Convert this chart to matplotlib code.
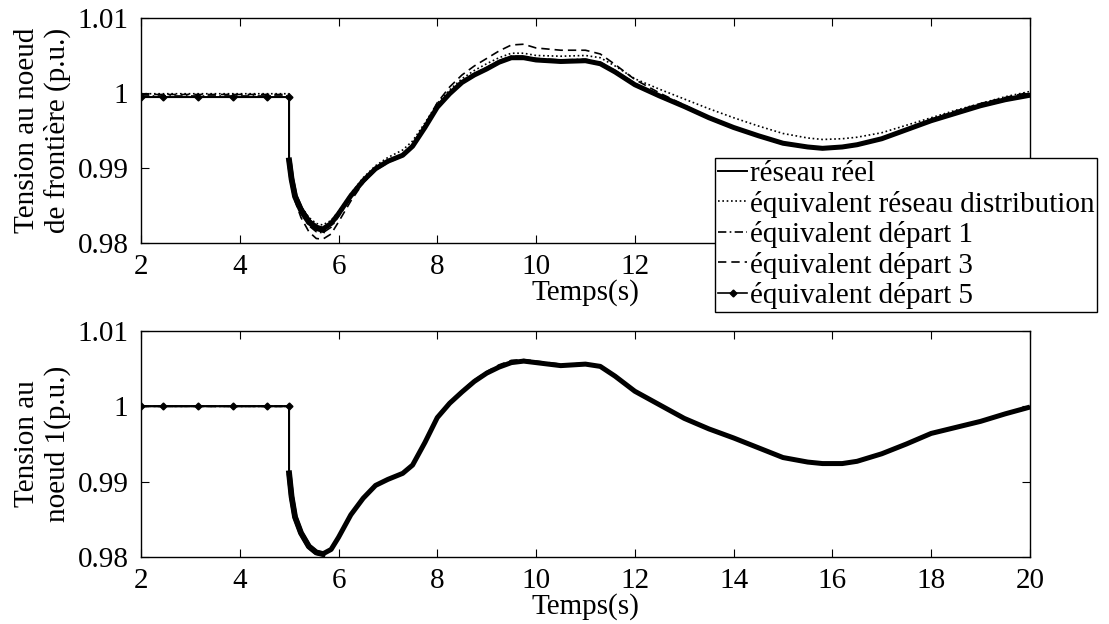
import matplotlib
matplotlib.use("Agg")
import matplotlib.pyplot as plt

plt.rcParams['font.family'] = ['Liberation Serif', 'DejaVu Serif']
plt.rcParams['font.size'] = 21

# ---------------- data ----------------
T = [2.0, 2.44, 3.15, 3.86, 4.55, 5.0, 5.0, 5.05, 5.12, 5.24, 5.4, 5.55, 5.68, 5.85, 6.0,
     6.25, 6.5, 6.75, 7.0, 7.3, 7.5, 7.75, 8.0, 8.25, 8.5, 8.75, 9.0, 9.25, 9.5, 9.75,
     10.0, 10.5, 11.0, 11.3, 11.6, 12.0, 12.5, 13.0, 13.5, 14.0, 14.5, 15.0, 15.5, 15.8,
     16.2, 16.5, 17.0, 17.5, 18.0, 18.5, 19.0, 19.5, 20.0]

# top panel: boundary node voltage
top_reel = [0.99945, 0.99945, 0.99945, 0.99945, 0.99945, 0.99945, 0.9910, 0.9885, 0.9862, 0.9844,
            0.9828, 0.9820, 0.98175, 0.9825, 0.9838, 0.9862, 0.9882, 0.9898, 0.9908, 0.9916,
            0.9928, 0.9953, 0.9980, 0.9998, 1.0013, 1.0023, 1.0031, 1.0040, 1.0046, 1.0046,
            1.0043, 1.0041, 1.0042, 1.0038, 1.0027, 1.0010, 0.9995, 0.9981, 0.9966, 0.9953,
            0.9942, 0.9932, 0.9927, 0.99255, 0.9927, 0.9930, 0.9938, 0.9950, 0.9962, 0.9972,
            0.9982, 0.9990, 0.9996]
top_distrib = [0.9999, 0.9999, 0.9999, 0.9999, 0.9999, 0.9999, 0.9912, 0.9888, 0.9866, 0.9849,
               0.9834, 0.9826, 0.9824, 0.9830, 0.9842, 0.9866, 0.9887, 0.9903, 0.9914, 0.9924,
               0.9936, 0.9960, 0.9986, 1.0004, 1.0019, 1.0030, 1.0039, 1.0047, 1.0053, 1.0053,
               1.0050, 1.0049, 1.0050, 1.0047, 1.0036, 1.0019, 1.0005, 0.9992, 0.9979, 0.9967,
               0.9956, 0.9946, 0.9940, 0.9938, 0.9939, 0.9941, 0.9947, 0.9957, 0.9967, 0.9977,
               0.9986, 0.9995, 1.0002]
top_dep1 = [0.9996, 0.9996, 0.9996, 0.9996, 0.9996, 0.9996, 0.9910, 0.9884, 0.9860, 0.9840,
            0.9823, 0.9815, 0.98135, 0.9821, 0.9835, 0.9860, 0.9881, 0.9897, 0.9907, 0.9916,
            0.9929, 0.9955, 0.9983, 1.0001, 1.0016, 1.0026, 1.0034, 1.0043, 1.0049, 1.0049,
            1.0046, 1.0044, 1.0045, 1.0041, 1.0030, 1.0013, 0.9997, 0.9982, 0.9967, 0.9954,
            0.9943, 0.9933, 0.9928, 0.99265, 0.9928, 0.9931, 0.9939, 0.9951, 0.9963, 0.9974,
            0.9984, 0.9992, 0.9999]
top_dep3 = [0.9998, 0.9998, 0.9998, 0.9998, 0.9998, 0.9998, 0.9910, 0.9882, 0.9856, 0.9834,
            0.9815, 0.9806, 0.9805, 0.9812, 0.9828, 0.9856, 0.9880, 0.9897, 0.9908, 0.9917,
            0.9931, 0.9958, 0.9987, 1.0008, 1.0024, 1.0036, 1.0046, 1.0056, 1.0064, 1.0065,
            1.0060, 1.0057, 1.0057, 1.0052, 1.0038, 1.0018, 1.0000, 0.9984, 0.9968, 0.9954,
            0.9943, 0.9933, 0.9928, 0.99265, 0.9928, 0.9931, 0.9940, 0.9952, 0.9965, 0.9976,
            0.9986, 0.9994, 1.0001]
top_dep5 = [0.99945, 0.99945, 0.99945, 0.99945, 0.99945, 0.99945, 0.9911, 0.9886, 0.9863, 0.9845,
            0.9829, 0.9821, 0.98185, 0.9826, 0.9839, 0.9863, 0.9883, 0.9899, 0.9909, 0.9917,
            0.9929, 0.9954, 0.9981, 0.9999, 1.0014, 1.0024, 1.0032, 1.0041, 1.0047, 1.0047,
            1.0044, 1.0042, 1.0043, 1.0039, 1.0028, 1.0011, 0.9996, 0.9982, 0.9967, 0.9954,
            0.9943, 0.9933, 0.9928, 0.99262, 0.9928, 0.9931, 0.9939, 0.9951, 0.9963, 0.9973,
            0.9983, 0.9991, 0.9997]

# bottom panel: node 1 voltage
bot_reel = [1.0000, 1.0000, 1.0000, 1.0000, 1.0000, 1.0000, 0.9911, 0.9880, 0.9853, 0.9832,
            0.9814, 0.9806, 0.9804, 0.9810, 0.9826, 0.9856, 0.9878, 0.9895, 0.9903, 0.9911,
            0.9922, 0.9952, 0.9985, 1.0004, 1.0019, 1.0033, 1.0044, 1.0052, 1.0058, 1.0060,
            1.0058, 1.0054, 1.0056, 1.0053, 1.0040, 1.0020, 1.0002, 0.9984, 0.9970, 0.9958,
            0.9945, 0.9932, 0.9926, 0.9924, 0.9924, 0.9927, 0.9937, 0.9950, 0.9964, 0.9972,
            0.9980, 0.9990, 0.9999]
bot_distrib = [1.0000, 1.0000, 1.0000, 1.0000, 1.0000, 1.0000, 0.9911, 0.9881, 0.9854, 0.9833,
               0.9815, 0.9807, 0.9805, 0.9811, 0.9827, 0.9857, 0.9879, 0.9896, 0.9904, 0.9912,
               0.9923, 0.9953, 0.9986, 1.0005, 1.0020, 1.0034, 1.0045, 1.0053, 1.0059, 1.0061,
               1.0059, 1.0055, 1.0057, 1.0054, 1.0041, 1.0021, 1.0003, 0.9985, 0.9971, 0.9959,
               0.9946, 0.9933, 0.9927, 0.9925, 0.9925, 0.9928, 0.9938, 0.9951, 0.9965, 0.9973,
               0.9981, 0.9991, 1.0000]
bot_dep1 = [1.0000, 1.0000, 1.0000, 1.0000, 1.0000, 1.0000, 0.9911, 0.9880, 0.9853, 0.9832,
            0.9814, 0.9806, 0.9804, 0.9810, 0.9826, 0.9856, 0.9878, 0.9895, 0.9903, 0.9911,
            0.9922, 0.9952, 0.9985, 1.0004, 1.0019, 1.0033, 1.0044, 1.0052, 1.0058, 1.0060,
            1.0058, 1.0054, 1.0056, 1.0053, 1.0040, 1.0020, 1.0002, 0.9984, 0.9970, 0.9958,
            0.9945, 0.9932, 0.9926, 0.9924, 0.9924, 0.9927, 0.9937, 0.9950, 0.9964, 0.9972,
            0.9980, 0.9990, 0.9999]
bot_dep3 = [1.0000, 1.0000, 1.0000, 1.0000, 1.0000, 1.0000, 0.9911, 0.9880, 0.9853, 0.9831,
            0.9813, 0.9805, 0.9803, 0.9809, 0.9826, 0.9856, 0.9879, 0.9896, 0.9904, 0.9912,
            0.9923, 0.9954, 0.9987, 1.0006, 1.0021, 1.0035, 1.0046, 1.0055, 1.0061, 1.0062,
            1.0060, 1.0056, 1.0057, 1.0054, 1.0041, 1.0021, 1.0002, 0.9984, 0.9970, 0.9958,
            0.9945, 0.9932, 0.9926, 0.9924, 0.9924, 0.9927, 0.9937, 0.9950, 0.9964, 0.9973,
            0.9981, 0.9990, 0.9999]
bot_dep5 = [1.0000, 1.0000, 1.0000, 1.0000, 1.0000, 1.0000, 0.9911, 0.9880, 0.9853, 0.9832,
            0.9814, 0.9806, 0.9804, 0.9810, 0.9826, 0.9856, 0.9878, 0.9895, 0.9903, 0.9911,
            0.9922, 0.9952, 0.9985, 1.0004, 1.0019, 1.0033, 1.0044, 1.0052, 1.0058, 1.0060,
            1.0058, 1.0054, 1.0056, 1.0053, 1.0040, 1.0020, 1.0002, 0.9984, 0.9970, 0.9958,
            0.9945, 0.9932, 0.9926, 0.9924, 0.9924, 0.9927, 0.9937, 0.9950, 0.9964, 0.9972,
            0.9980, 0.9990, 0.9999]

labels = ["réseau réel", "équivalent réseau distribution", "équivalent départ 1",
          "équivalent départ 3", "équivalent départ 5"]
xticks = [2, 4, 6, 8, 10, 12, 14, 16, 18, 20]
yticks = [0.98, 0.99, 1.0, 1.01]
ytick_labels = ["0.98", "0.99", "1", "1.01"]
xlabel = "Temps(s)"
ylabel_top = "Tension au noeud\nde frontière (p.u.)"
ylabel_bot = "Tension au\nnoeud 1(p.u.)"

# ---------------- figure ----------------
fig = plt.figure(figsize=(11.09, 6.24), dpi=100)
ax1 = fig.add_axes([0.1271, 0.6106, 0.8016, 0.3606])
ax2 = fig.add_axes([0.1271, 0.1074, 0.8016, 0.3622])

n_pre = 6  # samples before the fault (marker positions)


def draw(ax, reel, distrib, dep1, dep3, dep5):
    h1, = ax.plot(T, reel, color='black', lw=1.4, ls='-')
    h2, = ax.plot(T, distrib, color='black', lw=1.2, ls=(0, (1, 1.6)))
    h3, = ax.plot(T, dep1, color='black', lw=1.2, ls=(0, (5, 2, 1, 2)))
    h4, = ax.plot(T, dep3, color='black', lw=1.2, ls=(0, (5, 3)))
    h5, = ax.plot(T[:n_pre], dep5[:n_pre], color='black', lw=1.2, ls='-',
                  marker='D', ms=3.5)
    ax.plot(T[n_pre - 1:n_pre + 1], dep5[n_pre - 1:n_pre + 1], color='black', lw=1.4)
    ax.plot(T[n_pre:], dep5[n_pre:], color='black', lw=3.6, solid_capstyle='butt')
    ax.plot(T[n_pre:n_pre + 7], reel[n_pre:n_pre + 7], color='black', lw=4.2)
    ax.set_xlim(2, 20)
    ax.set_ylim(0.98, 1.01)
    ax.set_xticks(xticks)
    ax.set_yticks(yticks)
    ax.set_yticklabels(ytick_labels)
    ax.tick_params(direction='in', length=6, width=0.8, top=True, right=True,
                   labelsize=21)
    ax.tick_params(axis='x', pad=8)
    ax.tick_params(axis='y', pad=9)
    for s in ax.spines.values():
        s.set_linewidth(1.0)
    return [h1, h2, h3, h4, h5]


handles = draw(ax1, top_reel, top_distrib, top_dep1, top_dep3, top_dep5)
draw(ax2, bot_reel, bot_distrib, bot_dep1, bot_dep3, bot_dep5)

ax1.set_xlabel(xlabel, fontsize=21, labelpad=-1)
ax2.set_xlabel(xlabel, fontsize=21, labelpad=-1)
ax1.set_ylabel(ylabel_top, fontsize=21, linespacing=1.15, labelpad=5)
ax2.set_ylabel(ylabel_bot, fontsize=21, linespacing=1.15, labelpad=5)

leg = ax1.legend(handles, labels, loc='upper left', bbox_to_anchor=(0.645, 0.747),
                 bbox_transform=fig.transFigure, fontsize=21, handlelength=1.0,
                 handletextpad=0.08, labelspacing=0.12, borderpad=0.1,
                 borderaxespad=0, fancybox=False, framealpha=1, edgecolor='black')
leg.get_frame().set_linewidth(1.0)
leg.set_zorder(10)

fig.savefig("out.png", dpi=100)
